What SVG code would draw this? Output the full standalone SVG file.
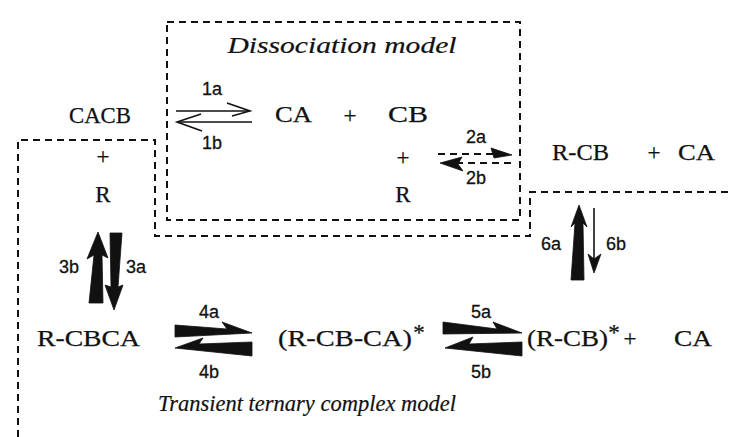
<svg xmlns="http://www.w3.org/2000/svg" width="732" height="437" viewBox="0 0 732 437">
<style>
.t{font-family:"Liberation Serif",serif;font-size:23px;fill:#111;stroke:#111;stroke-width:0.25}
.it{font-family:"Liberation Serif",serif;font-size:23px;font-style:italic;fill:#111;stroke:#111;stroke-width:0.2}
.l{font-family:"Liberation Sans",sans-serif;font-size:18px;fill:#111;stroke:#111;stroke-width:0.3}
.dash{fill:none;stroke:#111;stroke-width:2;stroke-dasharray:7 5}
.thin{fill:none;stroke:#111;stroke-width:1.6}
.fill{fill:#111;stroke:#111;stroke-width:0.8;stroke-linejoin:round}
</style>
<rect width="732" height="437" fill="#fff"/>
<g id="dissociation-box">
<rect class="dash" x="167" y="22" width="353" height="198"/>
<text class="it" x="342" y="53" text-anchor="middle" textLength="229" lengthAdjust="spacingAndGlyphs">Dissociation model</text>
</g>
<g id="transient-region">
<polyline class="dash" points="18,437 18,140 155,140 155,236 530,236 530,192 732,192"/>
<text class="it" x="307" y="411" text-anchor="middle" textLength="298" lengthAdjust="spacingAndGlyphs">Transient ternary complex model</text>
</g>
<g id="CACB"><text class="t" x="69" y="123" textLength="62" lengthAdjust="spacingAndGlyphs">CACB</text>
<text class="t" x="103" y="164" text-anchor="middle">+</text>
<text class="t" x="103" y="202" text-anchor="middle">R</text></g>
<g id="CA-CB"><text class="t" x="275" y="122" textLength="37" lengthAdjust="spacingAndGlyphs">CA</text>
<text class="t" x="350" y="123" text-anchor="middle">+</text>
<text class="t" x="388" y="122" textLength="40" lengthAdjust="spacingAndGlyphs">CB</text>
<text class="t" x="403" y="165" text-anchor="middle">+</text>
<text class="t" x="403" y="202" text-anchor="middle">R</text></g>
<g id="RCB-CA"><text class="t" x="552" y="160" textLength="57" lengthAdjust="spacingAndGlyphs">R-CB</text>
<text class="t" x="654" y="160" text-anchor="middle">+</text>
<text class="t" x="678" y="160" textLength="37" lengthAdjust="spacingAndGlyphs">CA</text></g>
<g id="RCBCA"><text class="t" x="37" y="346" textLength="103" lengthAdjust="spacingAndGlyphs">R-CBCA</text></g>
<g id="ternary"><text class="t" x="278" y="346" textLength="134" lengthAdjust="spacingAndGlyphs">(R-CB-CA)</text>
<text class="t" x="419" y="340" text-anchor="middle">*</text></g>
<g id="RCB-star-CA"><text class="t" x="527" y="346" textLength="81" lengthAdjust="spacingAndGlyphs">(R-CB)</text>
<text class="t" x="614" y="340" text-anchor="middle">*</text>
<text class="t" x="630" y="346" text-anchor="middle">+</text>
<text class="t" x="674" y="346" textLength="38" lengthAdjust="spacingAndGlyphs">CA</text></g>
<g id="connectors">
<line class="thin" x1="176" y1="111" x2="249" y2="111"/>
<path class="thin" d="M227,103 L250,111 L232,116"/>
<line class="thin" x1="179" y1="122" x2="252" y2="122"/>
<path class="thin" d="M201,114 L177,122 L202,131"/>
<text class="l" x="212" y="95" text-anchor="middle">1a</text>
<text class="l" x="212" y="149" text-anchor="middle">1b</text>
<line class="dash" x1="438" y1="154" x2="508" y2="154" stroke-dasharray="6 4"/>
<path class="fill" d="M491,148 L512,155 L494,158 Z"/>
<line class="dash" x1="444" y1="163" x2="514" y2="163" stroke-dasharray="6 4"/>
<path class="fill" d="M462,157 L440,163 L463,171 L458,164 Z"/>
<text class="l" x="476" y="143" text-anchor="middle">2a</text>
<text class="l" x="476" y="184" text-anchor="middle">2b</text>
<path class="fill" d="M98,232 L108,258 L102,255 L103,303 L89,303 L94,255 L87,259 Z"/>
<path class="fill" d="M110,233 L122,233 L118,287 L123,285 L114,310 L105,285 L111,287 Z"/>
<text class="l" x="69" y="273" text-anchor="middle">3b</text>
<text class="l" x="136" y="273" text-anchor="middle">3a</text>
<path class="fill" d="M175,325 L227,329 L222,322 L252,333 L175,337 Z"/>
<path class="fill" d="M175,348 L203,338 L199,344 L252,342 L252,356 Z"/>
<text class="l" x="209" y="318" text-anchor="middle">4a</text>
<text class="l" x="209" y="378" text-anchor="middle">4b</text>
<path class="fill" d="M443,322 L497,329 L493,322 L522,333 L443,334 Z"/>
<path class="fill" d="M445,348 L473,337 L469,344 L522,342 L522,356 Z"/>
<text class="l" x="481" y="318" text-anchor="middle">5a</text>
<text class="l" x="481" y="378" text-anchor="middle">5b</text>
<path class="fill" d="M579,205 L587,227 L583,223 L584,280 L571,280 L575,223 L571,227 Z"/>
<line class="thin" x1="594" y1="208" x2="594" y2="262"/>
<path class="fill" d="M588,254 L594,273 L601,254 L594,259 Z"/>
<text class="l" x="551" y="250" text-anchor="middle">6a</text>
<text class="l" x="616" y="250" text-anchor="middle">6b</text>
</g>
</svg>
